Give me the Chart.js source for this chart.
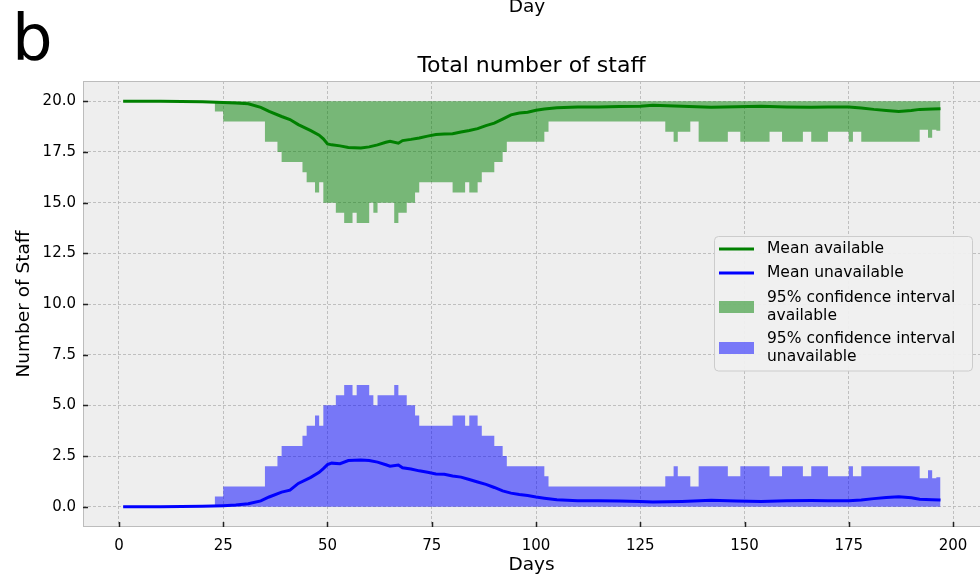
<!DOCTYPE html>
<html>
<head>
<meta charset="utf-8">
<script src="https://cdn.jsdelivr.net/npm/chart.js@4"></script>
<style>
  html, body { margin: 0; padding: 0; background: #fff; overflow: hidden; }
  canvas { display: block; }
</style>
</head>
<body>
<canvas id="staffChart" width="980" height="579"></canvas>
<script>
/**************************************************************
 * Data
 **************************************************************/
const xTicks = [0, 25, 50, 75, 100, 125, 150, 175, 200];
const yTicks = [0, 2.5, 5, 7.5, 10, 12.5, 15, 17.5, 20];

// mean curves, sampled at these days
const meanDays = [1, 10, 20, 25, 28, 31, 34, 36, 39, 41, 43, 46, 48, 49, 50, 51, 53, 55, 58, 60,
  62, 64, 65, 67, 68, 70, 72, 74, 76, 78, 80, 82, 84, 86, 88, 90, 92, 94, 96, 98,
  100, 102, 105, 110, 115, 120, 125, 128, 135, 142, 148, 154, 160, 166, 170, 175, 178, 181, 184, 187,
  190, 192, 195, 197];
const meanAvailable = [20.0, 20.0, 19.98, 19.94, 19.91, 19.88, 19.7, 19.5, 19.25, 19.1, 18.85, 18.55, 18.33, 18.15, 17.9, 17.85, 17.8, 17.72, 17.7, 17.75,
  17.85, 17.98, 18.03, 17.93, 18.06, 18.12, 18.19, 18.28, 18.36, 18.38, 18.4, 18.48, 18.56, 18.65, 18.8, 18.92, 19.12, 19.33, 19.42, 19.46,
  19.56, 19.62, 19.68, 19.72, 19.72, 19.74, 19.76, 19.8, 19.75, 19.7, 19.73, 19.76, 19.72, 19.7, 19.72, 19.72, 19.67, 19.6, 19.55, 19.5,
  19.55, 19.6, 19.62, 19.63];
const meanUnavailable = [0.0, 0.0, 0.02, 0.05, 0.08, 0.15, 0.29, 0.48, 0.72, 0.82, 1.15, 1.45, 1.7, 1.88, 2.08, 2.15, 2.12, 2.28, 2.3, 2.28,
  2.2, 2.07, 2.0, 2.06, 1.92, 1.86, 1.77, 1.7, 1.62, 1.6, 1.52, 1.46, 1.34, 1.22, 1.1, 0.95, 0.78, 0.67, 0.6, 0.55,
  0.48, 0.42, 0.34, 0.3, 0.3, 0.28, 0.26, 0.23, 0.26, 0.32, 0.28, 0.26, 0.3, 0.31, 0.3, 0.3, 0.33, 0.4, 0.45, 0.49,
  0.44, 0.37, 0.35, 0.33];

// 95% CI bounds: days where the step changes, and the value held from that day on
const ciDays = [1, 23, 25, 35, 38, 39, 44, 45, 47, 48, 49, 52, 54, 56, 57, 60, 61, 62, 66, 67,
  69, 71, 72, 80, 83, 84, 86, 87, 90, 92, 93, 102, 103, 131, 133, 134, 137, 139, 146, 149,
  156, 159, 164, 166, 170, 175, 176, 178, 192, 194, 195, 196, 197];
const ciAvailableLow = [20, 19.5, 19, 18, 17.5, 17, 16.5, 16, 15.5, 16, 15, 14.5, 14, 14.5, 14, 15, 14.5, 15, 14, 14.5,
  15, 15.5, 16, 15.5, 16, 15.5, 16, 16.5, 17, 17.5, 18, 18.5, 19, 18.5, 18, 18.5, 19, 18, 18.5, 18,
  18.5, 18, 18.5, 18, 18.5, 18, 18.5, 18, 18.6, 18.2, 18.6, 18.55, 18.55];
const ciUnavailableHigh = [0, 0.5, 1, 2, 2.5, 3, 3.5, 4, 4.5, 4, 5, 5.5, 6, 5.5, 6, 5.5, 5, 5.5, 6, 5.5,
  5, 4.5, 4, 4.5, 4, 4.5, 4, 3.5, 3, 2.5, 2, 1.5, 1, 1.5, 2, 1.5, 1, 2, 1.5, 2,
  1.5, 2, 1.5, 2, 1.5, 2, 1.5, 2, 1.4, 1.8, 1.4, 1.45, 1.45];

/**************************************************************
 * Look
 **************************************************************/
const FONT = "'DejaVu Sans', 'Liberation Sans', sans-serif";
Chart.defaults.font.family = FONT;
Chart.defaults.color = "#000";

const AXES_BG = "#eeeeee";
const GRID = "#b2b2b2";
const FRAME = "#bcbcbc";

const toXY = (xs, ys) => xs.map((x, i) => ({ x: x, y: ys[i] }));

// backgrounds, frame, inward ticks, title, panel letter and legend
const decorations = {
  id: "decorations",
  beforeDraw(chart) {
    const { ctx, chartArea: a } = chart;
    ctx.save();
    ctx.fillStyle = "#fff";
    ctx.fillRect(0, 0, chart.width, chart.height);
    ctx.fillStyle = AXES_BG;
    ctx.fillRect(a.left, a.top, a.right - a.left, a.bottom - a.top);
    ctx.restore();
  },
  afterDraw(chart) {
    const { ctx, chartArea: a } = chart;
    const xs = chart.scales.x, ys = chart.scales.y;
    ctx.save();

    // frame
    ctx.strokeStyle = FRAME;
    ctx.lineWidth = 1;
    ctx.strokeRect(a.left + 0.5, a.top + 0.5, a.right - a.left, a.bottom - a.top - 1);

    // tick marks pointing in
    ctx.strokeStyle = "#222";
    ctx.lineWidth = 1.5;
    ctx.beginPath();
    xTicks.forEach(v => {
      const px = Math.round(xs.getPixelForValue(v)) + 0.5;
      ctx.moveTo(px, a.bottom);
      ctx.lineTo(px, a.bottom - 5);
    });
    yTicks.forEach(v => {
      const py = Math.round(ys.getPixelForValue(v)) + 0.5;
      ctx.moveTo(a.left, py);
      ctx.lineTo(a.left + 5, py);
    });
    ctx.stroke();

    // texts above the axes
    ctx.fillStyle = "#000";
    ctx.textAlign = "center";
    ctx.textBaseline = "alphabetic";
    ctx.font = "18.5px " + FONT;
    ctx.fillText("Day", 527, 12);
    ctx.font = "22px " + FONT;
    ctx.fillText("Total number of staff", (a.left + a.right) / 2, 72);
    ctx.textAlign = "left";
    ctx.font = "64px " + FONT;
    ctx.fillText("b", 12, 60);

    // legend
    const lx = 714.5, ly = 236.5, lw = 258, lh = 134.5;
    ctx.fillStyle = "rgba(239,239,239,0.95)";
    ctx.strokeStyle = "#cccccc";
    ctx.lineWidth = 1;
    ctx.beginPath();
    ctx.roundRect(lx, ly, lw, lh, 4);
    ctx.fill();
    ctx.stroke();

    const ds = chart.data.datasets;
    const rows = [
      { d: ds[0], y: [249] },
      { d: ds[1], y: [273] },
      { d: ds[2], y: [298, 316] },
      { d: ds[3], y: [339, 357] }
    ];
    ctx.font = "15.5px " + FONT;
    ctx.textBaseline = "middle";
    rows.forEach(r => {
      const lines = r.d.label.split("\n");
      const mid = (r.y[0] + r.y[r.y.length - 1]) / 2;
      if (r.d.fill) {
        ctx.fillStyle = r.d.backgroundColor;
        ctx.fillRect(719, mid - 6, 35, 12);
      } else {
        ctx.strokeStyle = r.d.borderColor;
        ctx.lineWidth = 3;
        ctx.beginPath();
        ctx.moveTo(719, mid);
        ctx.lineTo(754, mid);
        ctx.stroke();
      }
      ctx.fillStyle = "#000";
      lines.forEach((t, i) => ctx.fillText(t, 767, r.y[i]));
    });
    ctx.restore();
  }
};

/**************************************************************
 * Chart
 **************************************************************/
const ctx = document.getElementById("staffChart").getContext("2d");

new Chart(ctx, {
  type: "line",
  data: {
    datasets: [
      {
        label: "Mean available",
        data: toXY(meanDays, meanAvailable),
        borderColor: "#008000",
        borderWidth: 3,
        pointRadius: 0,
        fill: false
      },
      {
        label: "Mean unavailable",
        data: toXY(meanDays, meanUnavailable),
        borderColor: "#0000ff",
        borderWidth: 3,
        pointRadius: 0,
        fill: false
      },
      {
        label: "95% confidence interval\navailable",
        data: toXY(ciDays, ciAvailableLow),
        stepped: "before",
        borderWidth: 0,
        borderColor: "rgba(0,0,0,0)",
        backgroundColor: "rgba(0,128,0,0.5)",
        pointRadius: 0,
        fill: { value: 20 }
      },
      {
        label: "95% confidence interval\nunavailable",
        data: toXY(ciDays, ciUnavailableHigh),
        stepped: "before",
        borderWidth: 0,
        borderColor: "rgba(0,0,0,0)",
        backgroundColor: "rgba(0,0,255,0.5)",
        pointRadius: 0,
        fill: "origin"
      }
    ]
  },
  options: {
    responsive: false,
    animation: false,
    devicePixelRatio: 1,
    layout: { padding: { top: 81, left: 0, right: 0, bottom: 0 } },
    plugins: {
      legend: { display: false },
      tooltip: { enabled: false }
    },
    scales: {
      x: {
        type: "linear",
        min: -8.63,
        max: 206.47,
        afterFit: s => { s.height = 52; },
        afterBuildTicks: s => { s.ticks = xTicks.map(v => ({ value: v })); },
        grid: { color: GRID, lineWidth: 0.8, drawTicks: false },
        border: { display: false, dash: [3, 2] },
        ticks: {
          padding: 10,
          maxRotation: 0,
          autoSkip: false,
          font: { size: 15 },
          callback: v => String(v)
        },
        title: {
          display: true,
          text: "Days",
          font: { size: 18.5 },
          padding: { top: 0, bottom: 3 }
        }
      },
      y: {
        type: "linear",
        min: -1,
        max: 21,
        afterFit: s => { s.width = 83; },
        afterBuildTicks: s => { s.ticks = yTicks.map(v => ({ value: v })); },
        grid: { color: GRID, lineWidth: 0.8, drawTicks: false },
        border: { display: false, dash: [3, 2] },
        ticks: {
          padding: 7,
          autoSkip: false,
          font: { size: 15 },
          callback: v => v.toFixed(1)
        },
        title: {
          display: true,
          text: "Number of Staff",
          font: { size: 18.5 },
          padding: { top: 13, bottom: 0 }
        }
      }
    }
  },
  plugins: [decorations]
});
</script>
</body>
</html>
